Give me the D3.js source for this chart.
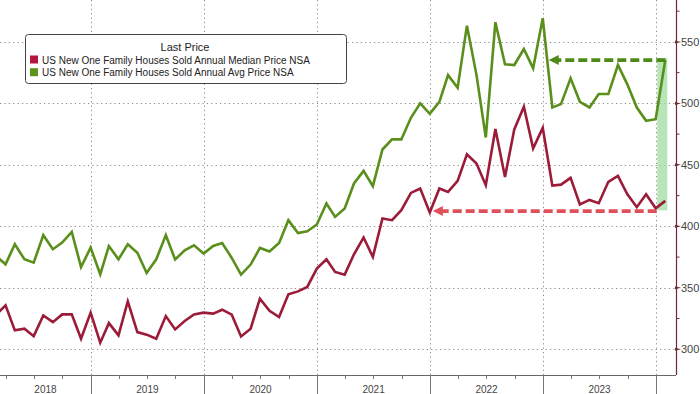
<!DOCTYPE html>
<html><head><meta charset="utf-8">
<script src="https://cdn.jsdelivr.net/npm/d3@7"></script>
<style>
body{margin:0;background:#fff}
svg{display:block}
text{font-family:"Liberation Sans",Arial,sans-serif}
</style>
</head><body>
<svg id="c" width="700" height="394"></svg>
<script>
// ---------- data ----------
const firstMonth = "2018-02";   // monthly observations, Feb 2018 .. Jan 2024
const medianPrice = [
  327.9, 335.7, 315.4, 316.8, 310.7, 327.6, 322.1, 328.4, 328.4, 308.6, 329.8,
  305.4, 321.3, 311.3, 339.0, 314.0, 311.9, 308.6, 327.0, 316.2, 323.0, 328.4, 329.8,
  329.0, 332.2, 328.2, 310.5, 316.8, 341.2, 331.3, 326.2, 344.7, 347.1, 350.7, 365.6,
  373.2, 362.9, 360.7, 377.3, 390.9, 375.1, 406.4, 405.0, 413.1, 427.2, 430.8, 411.2,
  430.8, 428.0, 437.0, 458.5, 451.1, 433.5, 479.1, 440.2, 478.8, 497.2, 463.4, 480.1,
  433.1, 433.9, 439.4, 417.8, 421.5, 418.8, 436.2, 441.0, 426.3, 415.6, 426.1, 414.7,
  420.7
];
const avgPrice = [
  375.8, 369.1, 385.4, 373.2, 370.5, 392.8, 381.4, 386.8, 395.4, 366.9, 382.7,
  361.0, 384.0, 373.2, 385.4, 378.5, 362.1, 373.2, 392.8, 373.0, 380.5, 384.6, 377.9,
  384.0, 386.5, 374.3, 360.7, 368.9, 382.4, 379.5, 386.5, 405.0, 394.6, 396.0, 401.5,
  418.6, 407.7, 414.5, 434.9, 445.1, 432.7, 462.5, 470.7, 470.7, 488.3, 500.0, 491.5,
  501.3, 523.0, 512.7, 563.2, 523.0, 472.3, 566.0, 531.8, 531.2, 544.2, 528.5, 569.2,
  496.7, 499.4, 520.4, 501.3, 496.7, 507.6, 507.6, 531.2, 515.7, 496.6, 485.8, 487.1,
  535.3
];
const yTicks = [300, 350, 400, 450, 500, 550];
const yMinorTicks = [325, 375, 425, 475, 525, 575];
const years = [2018, 2019, 2020, 2021, 2022, 2023];
const legendTitle = "Last Price";
const seriesNames = [
  "US New One Family Houses Sold Annual Median Price NSA",
  "US New One Family Houses Sold Annual Avg Price NSA"
];
// annotation anchors (month of the arrow ends)
const redArrow = {from: "2023-12", to: "2021-12"};
const greenArrow = {from: "2024-01", to: "2022-12"};

// ---------- layout ----------
const svg = d3.select("#c");
const plotRight = 676, plotBottom = 375;
const colors = {median: "#9c1b39", avg: "#5a8f1c"};

const x = d3.scaleTime()
  .domain([new Date(2018, 0, 1), new Date(2024, 0, 1)])
  .range([-22, 656]);
const y = d3.scaleLinear().domain([300, 550]).range([349.3, 41.9]);

const parseM = d3.timeParse("%Y-%m");
const monthEnd = d => new Date(d.getFullYear(), d.getMonth() + 1, 0);
const start = parseM(firstMonth);
const months = d3.timeMonth.range(start, d3.timeMonth.offset(start, medianPrice.length));
const medianData = months.map((m, i) => ({date: monthEnd(m), v: medianPrice[i]}));
const avgData = months.map((m, i) => ({date: monthEnd(m), v: avgPrice[i]}));

svg.append("defs").append("clipPath").attr("id", "clip")
  .append("rect").attr("x", 0).attr("y", 0).attr("width", plotRight).attr("height", plotBottom);

// grid
const grid = svg.append("g").attr("stroke", "#8a8a8a").attr("stroke-dasharray", "1.2,3.2").attr("stroke-width", 1);
grid.selectAll("line.h").data(yTicks).join("line")
  .attr("x1", 0).attr("x2", plotRight)
  .attr("y1", d => Math.round(y(d)) + 0.5).attr("y2", d => Math.round(y(d)) + 0.5);
const yearStarts = years.slice(1).map(yr => new Date(yr, 0, 1)).concat([new Date(2024, 0, 1)]);
grid.selectAll("line.v").data(yearStarts).join("line")
  .attr("x1", d => Math.round(x(d)) + 0.5).attr("x2", d => Math.round(x(d)) + 0.5)
  .attr("y1", 0).attr("y2", plotBottom);

// green band
const bandDate = monthEnd(parseM(greenArrow.from));
svg.append("rect")
  .attr("x", x(bandDate) - 8).attr("width", 10)
  .attr("y", y(537)).attr("height", y(413) - y(537))
  .attr("fill", "#9fdc9f").attr("opacity", 0.75);

// lines
const line = d3.line().x(d => x(d.date)).y(d => y(d.v));
const lg = svg.append("g").attr("clip-path", "url(#clip)");
lg.append("path").datum(avgData).attr("d", line)
  .attr("fill", "none").attr("stroke", colors.avg).attr("stroke-width", 2.6).attr("stroke-linejoin", "miter");
lg.append("path").datum(medianData).attr("d", line)
  .attr("fill", "none").attr("stroke", colors.median).attr("stroke-width", 2.6).attr("stroke-linejoin", "miter");

// arrows
function arrow(x1, x2, yy, color) {
  const g = svg.append("g");
  g.append("line").attr("x1", x1).attr("x2", x2 + 8).attr("y1", yy).attr("y2", yy)
    .attr("stroke", color).attr("stroke-width", 3.6).attr("stroke-dasharray", "9,4");
  g.append("path")
    .attr("d", `M${x2},${yy} L${x2 + 10},${yy - 5} L${x2 + 10},${yy + 5} Z`)
    .attr("fill", color);
}
arrow(x(monthEnd(parseM(redArrow.from))) + 1, x(monthEnd(parseM(redArrow.to))) + 3, y(412.4), "#e0505a");
arrow(x(monthEnd(parseM(greenArrow.from))), x(monthEnd(parseM(greenArrow.to))) + 6, y(535.2), "#4f8a18");

// y axis (right)
const ax = svg.append("g");
ax.append("line").attr("x1", plotRight + 0.5).attr("x2", plotRight + 0.5).attr("y1", 0).attr("y2", plotBottom)
  .attr("stroke", "#6f2a38").attr("stroke-width", 1.2);
ax.selectAll("path.maj").data(yTicks).join("path")
  .attr("d", d => `M${plotRight - 1},${y(d) - 1.5} L${plotRight + 5},${y(d)} L${plotRight - 1},${y(d) + 1.5} Z`)
  .attr("fill", "#6f2a38");
ax.selectAll("line.min").data(yMinorTicks).join("line")
  .attr("x1", plotRight + 0.5).attr("x2", plotRight + 3.5)
  .attr("y1", d => y(d)).attr("y2", d => y(d))
  .attr("stroke", "#6f2a38");
ax.selectAll("text").data(yTicks).join("text")
  .attr("x", plotRight + 5).attr("y", d => y(d) + 4)
  .attr("font-size", 11).attr("fill", "#444").text(d => d);

// x axis
const xa = svg.append("g");
xa.append("line").attr("x1", 0).attr("x2", plotRight).attr("y1", plotBottom + 0.5).attr("y2", plotBottom + 0.5)
  .attr("stroke", "#666");
const quarters = d3.timeMonth.range(new Date(2018, 0, 1), new Date(2024, 0, 2), 3)
  .filter(d => d.getMonth() !== 0);
xa.selectAll("line.q").data(quarters).join("line")
  .attr("x1", d => Math.round(x(d)) + 0.5).attr("x2", d => Math.round(x(d)) + 0.5)
  .attr("y1", plotBottom).attr("y2", plotBottom + 4).attr("stroke", "#777");
xa.selectAll("line.yr").data(yearStarts).join("line")
  .attr("x1", d => Math.round(x(d)) + 0.5).attr("x2", d => Math.round(x(d)) + 0.5)
  .attr("y1", plotBottom).attr("y2", 394).attr("stroke", "#777");
xa.selectAll("text").data(years).join("text")
  .attr("x", yr => {
    const a = Math.max(0, x(new Date(yr, 0, 1))), b = Math.min(plotRight, x(new Date(yr + 1, 0, 1)));
    return (a + b) / 2;
  })
  .attr("y", 393).attr("text-anchor", "middle").attr("font-size", 10).attr("fill", "#444")
  .text(d => d);

// legend
const leg = svg.append("g");
leg.append("rect").attr("x", 25.5).attr("y", 34.5).attr("width", 321).attr("height", 49).attr("rx", 3)
  .attr("fill", "#fff").attr("stroke", "#444").attr("stroke-width", 1);
leg.append("text").attr("x", 185).attr("y", 50.5).attr("text-anchor", "middle")
  .attr("font-size", 11).attr("fill", "#222").text(legendTitle);
[colors.median, colors.avg].forEach((c, i) => {
  leg.append("rect").attr("x", 30).attr("y", 55.5 + i * 12.7).attr("width", 8).attr("height", 8)
    .attr("fill", i === 0 ? "#b4183c" : "#5a9418");
  leg.append("text").attr("x", 42).attr("y", 63.7 + i * 12.7)
    .attr("font-size", 10).attr("fill", "#222").text(seriesNames[i]);
});
</script>
</body></html>
